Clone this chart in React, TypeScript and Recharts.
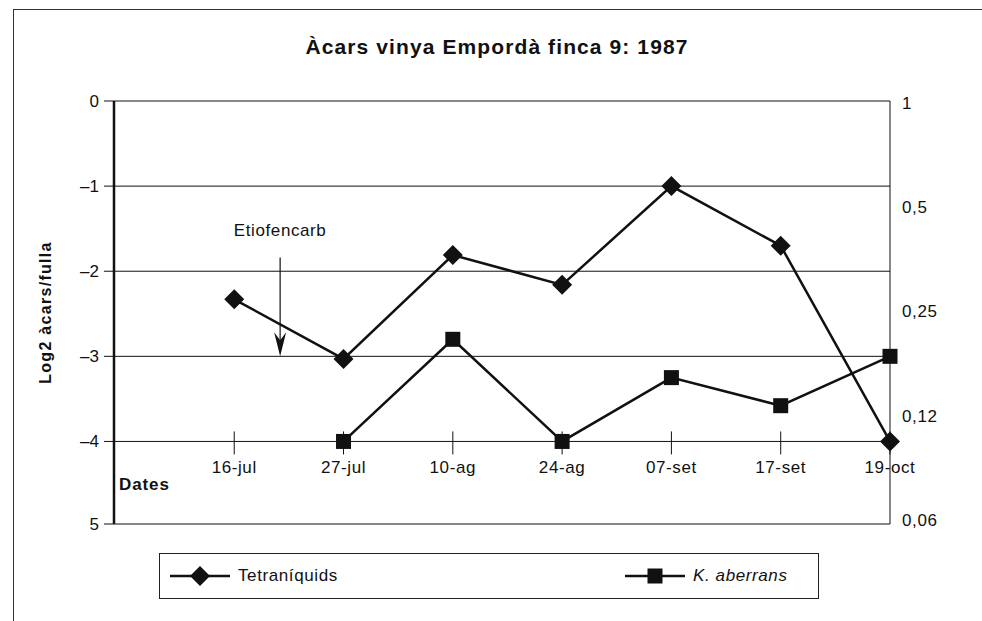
import React from 'react';
import { LineChart, Line, XAxis, YAxis, CartesianGrid, Legend, ReferenceLine } from 'recharts';

const dates = ['16-jul', '27-jul', '10-ag', '24-ag', '07-set', '17-set', '19-oct'];
const tetraniquids = [-2.33, -3.03, -1.81, -2.16, -1.0, -1.7, -4.0];
const kAberrans: (number | null)[] = [null, -4.0, -2.8, -4.0, -3.25, -3.58, -3.0];

const leftTicks = [0, -1, -2, -3, -4, -4.97];
const leftTickLabels = ['0', '–1', '–2', '–3', '–4', '5'];
const rightTicks = [0, -1, -2, -3, -4];
const rightTickLabels = ['1', '0,5', '0,25', '0,12', '0,06'];
const rightDomain = [-4.04, 0.016];

const titleText = 'Àcars vinya Empordà finca 9: 1987';
const yLabelText = 'Log2 àcars/fulla';
const xLabelText = 'Dates';
const treatment = { label: 'Etiofencarb', x: 1.42, yFrom: -1.84, yTo: -3 };
const X_CROSS = -4;

const series = [
  { key: 'tetra', name: 'Tetraníquids', marker: 'diamond', italic: false },
  { key: 'kab', name: 'K. aberrans', marker: 'square', italic: true },
];

const data = dates.map((d, i) => ({ idx: i + 1, date: d, tetra: tetraniquids[i], kab: kAberrans[i] }));

const W = 982;
const H = 621;
const M_TOP = 101;
const X_AXIS_H = 97;
const PLOT_H = H - M_TOP - X_AXIS_H;
const Y_MIN = leftTicks[leftTicks.length - 1];
const X_MIN = -0.1;

const FONT = '"Liberation Sans", Arial, Helvetica, sans-serif';
const INK = '#111';
const FS = 17;
const LS = 0.6;

const markerPath = (kind: string, cx: number, cy: number) => {
  if (kind === 'diamond') {
    const r = 10;
    return <polygon points={`${cx},${cy - r} ${cx + r},${cy} ${cx},${cy + r} ${cx - r},${cy}`} fill={INK} />;
  }
  const s = 7.5;
  return <rect x={cx - s} y={cy - s} width={s * 2} height={s * 2} fill={INK} />;
};

const makeDot = (kind: string) => (p: any) => {
  const { cx, cy, index } = p;
  if (cx == null || cy == null || isNaN(cy)) return <g key={`d-${kind}-${index}`} />;
  return <g key={`d-${kind}-${index}`}>{markerPath(kind, cx, cy)}</g>;
};

const XTick = (p: any) => {
  const { x, y, payload } = p;
  const crossY = y - (PLOT_H * (X_CROSS - Y_MIN)) / (0 - Y_MIN);
  const i = dates.findIndex((_, k) => k + 1 === payload.value);
  return (
    <g>
      <line x1={x} x2={x} y1={crossY - 10} y2={crossY + 13} stroke={INK} strokeWidth={1} />
      <text
        x={x}
        y={crossY + 32}
        textAnchor="middle"
        fontSize={FS}
        fontFamily={FONT}
        fill={INK}
        style={{ letterSpacing: LS }}
      >
        {i >= 0 ? dates[i] : ''}
      </text>
    </g>
  );
};

const ArrowShape = (p: any) => {
  const { x1, y1, x2, y2 } = p;
  if (x1 == null) return null;
  return (
    <g>
      <text
        x={x1}
        y={y1 - 22}
        textAnchor="middle"
        fontSize={FS}
        fontFamily={FONT}
        fill={INK}
        style={{ letterSpacing: LS }}
      >
        {treatment.label}
      </text>
      <line x1={x1} y1={y1} x2={x2} y2={y2 - 16} stroke={INK} strokeWidth={1.2} />
      <polygon points={`${x2},${y2} ${x2 - 6},${y2 - 24} ${x2},${y2 - 16} ${x2 + 6},${y2 - 24}`} fill={INK} />
    </g>
  );
};

const LegendContent = (props: any) => {
  const payload = props.payload || [];
  const lefts = [10, 465];
  return (
    <div
      style={{
        position: 'relative',
        width: 660,
        height: 46,
        boxSizing: 'border-box',
        border: '1.5px solid #222',
        background: '#fff',
        fontFamily: FONT,
        fontSize: FS,
        letterSpacing: LS,
        color: INK,
      }}
    >
      {series.map((s, i) => {
        const entry = payload.find((e: any) => e.dataKey === s.key);
        return (
          <div
            key={s.key}
            style={{ position: 'absolute', left: lefts[i], top: 0, height: 43, display: 'flex', alignItems: 'center' }}
          >
            <svg width={60} height={22} style={{ display: 'block' }}>
              <line x1={0} x2={60} y1={11} y2={11} stroke={INK} strokeWidth={2.5} />
              {markerPath(s.marker, 30, 11)}
            </svg>
            <span style={{ marginLeft: 8, fontStyle: s.italic ? 'italic' : 'normal' }}>
              {entry ? entry.value : s.name}
            </span>
          </div>
        );
      })}
    </div>
  );
};

export default function App() {
  return (
    <div style={{ position: 'absolute', left: 0, top: 0, width: W, height: H, overflow: 'hidden', background: '#fff' }}>
      <div
        style={{
          position: 'absolute',
          left: 13,
          top: 9,
          width: 1100,
          height: 800,
          border: '1.5px solid #333',
        }}
      />
      <div
        style={{
          position: 'absolute',
          left: 0,
          top: 35,
          width: 994,
          textAlign: 'center',
          fontFamily: FONT,
          fontWeight: 'bold',
          fontSize: 21,
          letterSpacing: 1.1,
          color: INK,
        }}
      >
        {titleText}
      </div>
      <div style={{ position: 'absolute', left: 0, top: 0 }}>
        <LineChart width={W} height={H} data={data} margin={{ top: M_TOP, right: 0, bottom: 0, left: 0 }}>
          <CartesianGrid yAxisId="left" vertical={false} horizontal stroke={INK} strokeWidth={1} />
          <XAxis
            dataKey="idx"
            type="number"
            domain={[X_MIN, dates.length]}
            ticks={dates.map((_, i) => i + 1)}
            height={X_AXIS_H}
            axisLine={false}
            tickLine={false}
            tickSize={0}
            tickMargin={0}
            tick={<XTick />}
            interval={0}
            label={{
              content: (lp: any) => {
                const vb = lp.viewBox || {};
                return (
                  <text
                    x={(vb.x || 0) + 5}
                    y={(vb.y || 0) - 34}
                    fontSize={FS}
                    fontWeight="bold"
                    fontFamily={FONT}
                    fill={INK}
                    style={{ letterSpacing: 0.9 }}
                  >
                    {xLabelText}
                  </text>
                );
              },
            }}
          />
          <YAxis
            yAxisId="left"
            orientation="left"
            width={114}
            domain={[Y_MIN, 0]}
            ticks={leftTicks}
            interval={0}
            tickFormatter={(v: number) => leftTickLabels[leftTicks.indexOf(v)] ?? String(v)}
            axisLine={{ stroke: INK, strokeWidth: 2.5 }}
            tickLine={{ stroke: INK, strokeWidth: 1 }}
            tickSize={10}
            tickMargin={5}
            tick={{ fontSize: FS, fontFamily: FONT, fill: INK }}
            label={{
              value: yLabelText,
              angle: -90,
              position: 'insideLeft',
              offset: 45,
              style: {
                textAnchor: 'middle',
                fontWeight: 'bold',
                fontSize: 16,
                letterSpacing: 1.3,
                fontFamily: FONT,
                fill: INK,
              },
            }}
          />
          <YAxis
            yAxisId="right"
            orientation="right"
            width={92}
            domain={rightDomain}
            ticks={rightTicks}
            interval={0}
            allowDataOverflow
            tickFormatter={(v: number) => rightTickLabels[rightTicks.indexOf(v)] ?? String(v)}
            axisLine={{ stroke: INK, strokeWidth: 1 }}
            tickLine={false}
            tickSize={0}
            tickMargin={12}
            tick={{ fontSize: FS, fontFamily: FONT, fill: INK, textAnchor: 'start', style: { letterSpacing: LS } }}
          />
          <ReferenceLine
            yAxisId="left"
            segment={[
              { x: treatment.x, y: treatment.yFrom },
              { x: treatment.x, y: treatment.yTo },
            ]}
            shape={<ArrowShape />}
          />
          {series.map((s) => (
            <Line
              key={s.key}
              yAxisId="left"
              dataKey={s.key}
              name={s.name}
              stroke={INK}
              strokeWidth={2.5}
              dot={makeDot(s.marker)}
              activeDot={false}
              isAnimationActive={false}
              connectNulls={false}
              legendType="line"
            />
          ))}
          <Legend
            layout="vertical"
            align="center"
            verticalAlign="middle"
            content={<LegendContent />}
            wrapperStyle={{ left: 159, top: 553, width: 660, height: 46 }}
          />
        </LineChart>
      </div>
    </div>
  );
}
